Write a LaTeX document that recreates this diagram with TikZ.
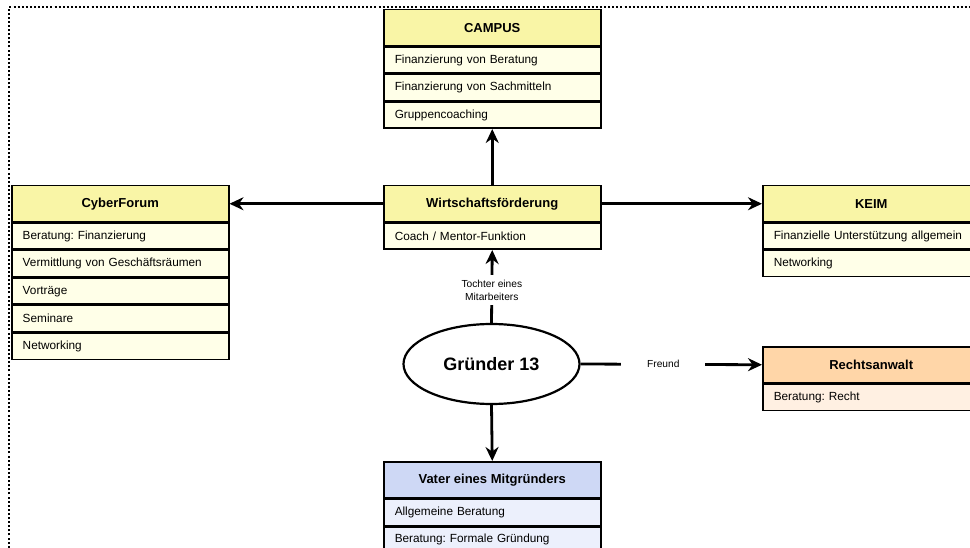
\documentclass[tikz,border=0pt]{standalone}
\usepackage{fontspec}
\setmainfont{Liberation Sans}
\usetikzlibrary{arrows.meta,shapes.geometric}
\frenchspacing
\definecolor{hdrY}{RGB}{249,245,166}
\definecolor{rowY}{RGB}{255,255,232}
\definecolor{hdrO}{RGB}{255,214,168}
\definecolor{rowO}{RGB}{255,240,226}
\definecolor{hdrB}{RGB}{206,216,245}
\definecolor{rowB}{RGB}{236,240,252}
\tikzset{
  hdr/.style={draw, line width=1.5pt, fill=hdrY, anchor=north west, inner sep=0pt,
    minimum width=217pt, minimum height=36pt, font=\bfseries\fontsize{13}{15}\selectfont},
  row/.style={draw, line width=1.5pt, fill=rowY, anchor=north west, inner xsep=11pt, inner ysep=0pt,
    text width=195pt, align=left, minimum height=26pt, font=\fontsize{11.8}{14}\selectfont},
  conn/.style={line width=2.8pt, -{Stealth[length=14pt,width=13pt]}},
  lbl/.style={fill=white, font=\fontsize{10.2}{13}\selectfont, align=center},
  founder/.style={draw, ellipse, line width=2.2pt, minimum width=176pt, minimum height=80pt,
    inner sep=0pt, font=\bfseries\fontsize{18}{20}\selectfont},
  frame/.style={line width=2pt, dash pattern=on 2pt off 2.1pt}
}
\begin{document}
\begin{tikzpicture}[x=1pt,y=-1pt]
\useasboundingbox (0,0) rectangle (970,548);
\clip (0,0) rectangle (970,548);
\draw[frame] (9,560) -- (9,7) -- (990,7);

% CAMPUS
\node[hdr] (campus) at (383,9) {CAMPUS};
\node[row] (campus1) at (campus.south west) {Finanzierung von Beratung};
\node[row] (campus2) at (campus1.south west) {Finanzierung von Sachmitteln};
\node[row] (campus3) at (campus2.south west) {Gruppencoaching};

% CyberForum
\node[hdr] (cf) at (11,185) {CyberForum};
\node[row] (cf1) at (cf.south west) {Beratung: Finanzierung};
\node[row] (cf2) at (cf1.south west) {Vermittlung von Geschäftsräumen};
\node[row] (cf3) at (cf2.south west) {Vorträge};
\node[row] (cf4) at (cf3.south west) {Seminare};
\node[row] (cf5) at (cf4.south west) {Networking};

% Wirtschaftsfoerderung
\node[hdr] (wf) at (383,185) {Wirtschaftsförderung};
\node[row] (wf1) at (wf.south west) {Coach / Mentor-Funktion};

% KEIM
\node[hdr] (keim) at (762,185) {KEIM};
\node[row] (keim1) at (keim.south west) {Finanzielle Unterstützung allgemein};
\node[row] (keim2) at (keim1.south west) {Networking};

% Rechtsanwalt
\node[hdr, fill=hdrO] (ra) at (762,346) {Rechtsanwalt};
\node[row, fill=rowO] (ra1) at (ra.south west) {Beratung: Recht};

% Vater
\node[hdr, fill=hdrB] (va) at (383,461) {Vater eines Mitgründers};
\node[row, fill=rowB] (va1) at (va.south west) {Allgemeine Beratung};
\node[row, fill=rowB] (va2) at (va1.south west) {Beratung: Formale Gründung};

% Founder
\node[founder] (g) at (491.5,364) {Gründer 13};

% connectors
\draw[conn] (wf.north) -- (campus3.south);
\draw[conn] (wf.west) -- (cf.east);
\draw[conn] (wf.east) -- (keim.west);
\draw[conn] (g.north) -- node[lbl, pos=0.45, inner xsep=2pt, inner ysep=5pt] {Tochter eines\\Mitarbeiters} (wf1.south);
\draw[conn] (g.east) -- node[lbl, pos=0.456, inner xsep=26pt, inner ysep=3pt] {Freund} (ra.west);
\draw[conn] (g.south) -- (va.north);
\end{tikzpicture}
\end{document}
